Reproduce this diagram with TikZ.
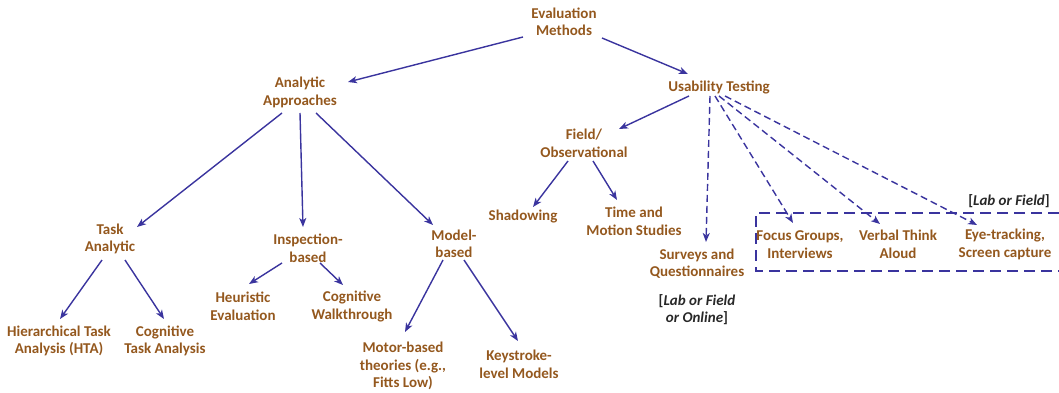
\documentclass[tikz,border=0pt]{standalone}
\usepackage{fontspec}
\setmainfont{Carlito}
\usetikzlibrary{arrows.meta}
\definecolor{txtbrown}{RGB}{148,88,30}
\definecolor{arrblue}{RGB}{58,52,158}
\definecolor{notegray}{RGB}{40,40,40}
\begin{document}
\begin{tikzpicture}[x=1pt,y=-1pt,
  lbl/.style={text=txtbrown,font=\fontsize{15}{17.5}\selectfont\bfseries,align=center,inner sep=3pt},
  note/.style={text=notegray,font=\fontsize{15}{17.5}\selectfont\bfseries,align=center,inner sep=1pt},
  conn/.style={draw=arrblue,line width=1.4pt,-{Stealth[length=9pt,width=7pt,inset=2.5pt]}},
  dconn/.style={conn,dash pattern=on 7pt off 4pt},
  boxline/.style={draw=arrblue,line width=1.3pt,dash pattern=on 11pt off 6pt}]
\useasboundingbox (0,0) rectangle (1059,393);
% nodes
\node[lbl] (em) at (564,22) {Evaluation\\Methods};
\node[lbl] (aa) at (300,92.5) {Analytic\\Approaches};
\node[lbl] (ut) at (719,87) {Usability Testing};
\node[lbl] (fo) at (584,143.5) {Field/\\Observational};
\node[lbl] (sh) at (523,217) {Shadowing};
\node[lbl] (tm) at (634,221.5) {Time and\\Motion Studies};
\node[lbl] (sq) at (697,263.5) {Surveys and\\Questionnaires};
\node[note] (n1) at (697,309.5) {[\textit{Lab or Field}\\\textit{or Online}]};
\node[lbl] (fg) at (800,244.5) {Focus Groups,\\Interviews};
\node[lbl] (vt) at (898,244.5) {Verbal Think\\Aloud};
\node[lbl] (et) at (1005,244.5) {Eye-tracking,\\Screen capture};
\node[note] (n2) at (1009,201) {[\textit{Lab or Field}]};
\node[lbl] (ta) at (110,239) {Task\\Analytic};
\node[lbl] (ib) at (308,248.5) {Inspection-\\based};
\node[lbl] (mb) at (454,244) {Model-\\based};
\node[lbl] (hta) at (59,341) {Hierarchical Task\\Analysis (HTA)};
\node[lbl] (cta) at (165,341) {Cognitive\\Task Analysis};
\node[lbl] (he) at (243,306.5) {Heuristic\\Evaluation};
\node[lbl] (cw) at (352,306.5) {Cognitive\\Walkthrough};
\node[lbl] (mt) at (403,366) {Motor-based\\theories (e.g.,\\Fitts Low)};
\node[lbl] (ks) at (519,364.5) {Keystroke-\\level Models};
% dashed box (right side open, runs off the page)
\coordinate (bx1) at (1059,213);
\coordinate (bx2) at (756,213);
\coordinate (bx3) at (756,271);
\coordinate (bx4) at (1059,271);
\path[boxline] (bx1) -- (bx2) -- (bx3) -- (bx4);
% connectors
\path[conn] ([shift={(-41,15)}]em.center) -- ([shift={(48,-10.5)}]aa.center);
\path[conn] ([shift={(38,16)}]em.center) -- ([shift={(-31,-13)}]ut.center);
\path[conn] ([shift={(-18,20.5)}]aa.center) -- ([shift={(27,-12)}]ta.center);
\path[conn] ([shift={(0,20.5)}]aa.center) -- ([shift={(-5,-21.5)}]ib.center);
\path[conn] ([shift={(16,20.5)}]aa.center) -- ([shift={(-21,-19)}]mb.center);
\path[conn] ([shift={(-30,9)}]ut.center) -- ([shift={(35,-14.5)}]fo.center);
\path[conn] ([shift={(-16,17.5)}]fo.center) -- ([shift={(10,-10)}]sh.center);
\path[conn] ([shift={(9,17.5)}]fo.center) -- ([shift={(-17,-21.5)}]tm.center);
\path[conn] ([shift={(-8,21)}]ta.center) -- ([shift={(1,-22)}]hta.center);
\path[conn] ([shift={(15,21)}]ta.center) -- ([shift={(-1,-22)}]cta.center);
\path[conn] ([shift={(-26,14.5)}]ib.center) -- ([shift={(6,-22.5)}]he.center);
\path[conn] ([shift={(12,14.5)}]ib.center) -- ([shift={(-9,-21.5)}]cw.center);
\path[conn] ([shift={(-11,16)}]mb.center) -- ([shift={(2,-34)}]mt.center);
\path[conn] ([shift={(10,16)}]mb.center) -- ([shift={(-1,-23.5)}]ks.center);
\path[dconn] ([shift={(-9,9)}]ut.center) -- ([shift={(9,-21.5)}]sq.center);
\path[dconn] ([shift={(-4,9)}]ut.center) -- ([shift={(-7,-21.5)}]fg.center);
\path[dconn] ([shift={(0,9)}]ut.center) -- ([shift={(-18,-20.5)}]vt.center);
\path[dconn] ([shift={(6,9)}]ut.center) -- ([shift={(-28,-19.5)}]et.center);
\end{tikzpicture}
\end{document}
